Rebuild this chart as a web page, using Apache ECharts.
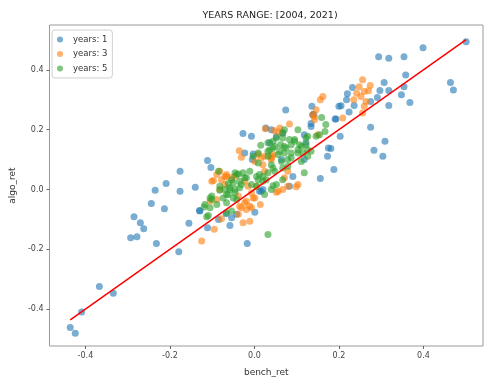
<!DOCTYPE html>
<html>
<head>
<meta charset="utf-8">
<script src="https://cdn.jsdelivr.net/npm/echarts@6/dist/echarts.min.js"></script>
<style>
  html, body { margin: 0; padding: 0; background: #fff; }
  #chart { width: 485px; height: 382px; }
</style>
</head>
<body>
<div id="chart"></div>
<script>
// title / labels
const titleText = 'YEARS RANGE: [2004, 2021)';
const xName = 'bench_ret';
const yName = 'algo_ret';
const seriesNames = ['years: 1', 'years: 3', 'years: 5'];
const xTicks = [-0.4, -0.2, 0.0, 0.2, 0.4];
const yTicks = [-0.4, -0.2, 0.0, 0.2, 0.4];

// [bench_ret, algo_ret]
const years1 = [
  [0.501, 0.494], [0.399, 0.474], [0.294, 0.444], [0.318, 0.439], [0.354, 0.444], [0.358, 0.383],
  [0.354, 0.344], [0.348, 0.317], [0.368, 0.291], [0.318, 0.281], [0.318, 0.331], [0.307, 0.358],
  [0.297, 0.331], [0.291, 0.308], [0.464, 0.358], [0.471, 0.333], [0.275, 0.294], [0.232, 0.341],
  [0.220, 0.320], [0.218, 0.300], [0.205, 0.280], [0.236, 0.281], [0.224, 0.259], [0.191, 0.236],
  [0.275, 0.208], [0.203, 0.178], [0.309, 0.161], [0.283, 0.131], [0.304, 0.111], [0.188, 0.067],
  [0.181, 0.137], [0.074, 0.266], [0.136, 0.278], [0.140, 0.252], [0.200, 0.278], [0.193, 0.236],
  [0.134, 0.221], [-0.027, 0.187], [-0.007, 0.178], [0.036, 0.156], [0.067, 0.189], [0.118, 0.183],
  [-0.023, 0.122], [-0.003, 0.119], [-0.005, 0.100], [-0.111, 0.097], [-0.103, 0.074], [0.173, 0.111],
  [0.175, 0.139], [0.156, 0.037], [0.091, 0.044], [0.083, 0.011], [-0.140, 0.008], [0.122, 0.156],
  [0.027, 0.206], [-0.176, 0.061], [-0.209, 0.020], [-0.235, -0.002], [-0.176, -0.006], [-0.244, -0.047],
  [-0.213, -0.064], [-0.285, -0.091], [-0.270, -0.111], [-0.262, -0.131], [-0.293, -0.161], [-0.278, -0.158],
  [-0.232, -0.180], [-0.155, -0.113], [-0.130, -0.070], [-0.111, -0.128], [-0.085, -0.100], [-0.067, -0.081],
  [-0.058, -0.120], [-0.054, -0.094], [-0.017, -0.180], [0.020, 0.000], [0.012, -0.006], [0.001, -0.076],
  [-0.129, -0.072], [-0.179, -0.208], [-0.367, -0.324], [-0.334, -0.347], [-0.409, -0.409], [-0.436, -0.461],
  [-0.424, -0.480], [0.138, 0.250], [0.016, -0.006], [0.134, 0.211], [0.040, 0.200], [0.052, 0.178],
  [0.064, 0.100], [0.118, 0.100], [-0.042, -0.083]
];
const years3 = [
  [0.256, 0.367], [0.248, 0.344], [0.274, 0.348], [0.242, 0.322], [0.260, 0.328], [0.252, 0.311],
  [0.264, 0.294], [0.260, 0.278], [0.256, 0.256], [0.209, 0.239], [0.162, 0.311], [0.156, 0.300],
  [0.083, 0.219], [0.026, 0.203], [0.046, 0.197], [0.057, 0.192], [0.142, 0.233], [0.150, 0.183],
  [-0.036, 0.130], [-0.031, 0.108], [0.016, 0.106], [0.020, 0.083], [0.040, 0.111], [-0.082, 0.061],
  [-0.070, 0.044], [-0.097, 0.030], [-0.046, 0.044], [0.001, 0.094], [0.079, 0.061], [0.071, 0.039],
  [0.103, 0.017], [0.024, 0.061], [-0.070, 0.017], [-0.101, 0.028], [-0.082, 0.000], [-0.125, -0.172],
  [-0.095, -0.133], [-0.078, -0.098], [-0.038, -0.083], [-0.027, -0.111], [-0.011, -0.106], [-0.019, -0.067],
  [-0.007, -0.061], [0.014, -0.050], [-0.023, -0.044], [-0.035, -0.056], [-0.038, -0.022], [-0.003, -0.028],
  [0.052, -0.009], [0.067, 0.000], [0.099, 0.009], [-0.023, 0.028], [0.005, 0.011], [-0.089, 0.050],
  [-0.066, 0.050], [0.146, 0.267], [0.138, 0.250], [0.270, 0.330], [0.235, 0.300], [-0.015, 0.011],
  [0.079, 0.011], [0.056, -0.006], [-0.054, 0.040], [0.009, 0.117], [0.024, 0.111], [0.040, 0.106],
  [-0.078, 0.033], [-0.066, 0.044], [-0.007, -0.011], [0.001, -0.028], [-0.019, -0.039], [-0.105, -0.039],
  [-0.089, -0.033], [-0.031, -0.061], [-0.011, -0.056], [0.142, 0.244], [0.060, 0.206], [0.044, 0.117],
  [0.040, 0.100]
];
const years5 = [
  [0.159, 0.241], [0.169, 0.217], [0.167, 0.194], [0.071, 0.200], [0.103, 0.200], [0.122, 0.172],
  [0.095, 0.167], [0.052, 0.172], [0.062, 0.150], [0.087, 0.150], [0.111, 0.144], [0.015, 0.148],
  [0.032, 0.128], [0.056, 0.117], [0.071, 0.122], [0.087, 0.106], [0.103, 0.122], [0.126, 0.111],
  [0.009, 0.122], [0.064, 0.094], [0.040, 0.083], [0.048, 0.061], [0.032, 0.056], [0.012, 0.050],
  [-0.011, 0.061], [-0.023, 0.039], [-0.038, 0.052], [-0.054, 0.033], [-0.031, 0.017], [0.111, 0.094],
  [0.118, 0.056], [0.067, 0.033], [0.052, 0.017], [0.020, 0.028], [0.005, 0.011], [0.134, 0.128],
  [0.079, 0.078], [-0.117, -0.050], [-0.105, -0.061], [-0.109, -0.087], [-0.101, -0.033], [-0.062, -0.017],
  [-0.050, -0.028], [-0.070, 0.000], [-0.046, 0.000], [-0.050, 0.022], [-0.035, 0.006], [-0.054, -0.072],
  [0.044, 0.013], [-0.119, -0.058], [-0.082, -0.002], [-0.062, 0.020], [-0.046, 0.056], [0.032, -0.150],
  [0.067, 0.189], [0.095, 0.161], [0.071, 0.144], [0.048, 0.144], [0.032, 0.111], [0.079, 0.100],
  [0.126, 0.133], [0.009, 0.089], [-0.058, 0.000], [-0.082, 0.011], [-0.101, -0.022], [-0.089, -0.050],
  [-0.074, -0.028], [-0.066, -0.044], [-0.042, -0.033], [0.028, 0.033], [0.067, 0.072], [0.040, 0.000],
  [0.024, -0.017], [0.005, 0.044], [0.032, 0.156], [0.036, 0.133], [-0.003, 0.111], [0.044, 0.072],
  [-0.085, 0.061], [-0.042, 0.050], [-0.027, 0.056], [-0.035, 0.028], [-0.019, 0.039], [-0.058, 0.006],
  [-0.046, -0.011], [-0.066, -0.017], [-0.007, 0.017], [0.009, 0.033], [0.020, 0.044], [-0.105, -0.028],
  [-0.066, -0.078], [-0.113, -0.091], [0.126, 0.178], [0.146, 0.178], [0.154, 0.183], [0.044, 0.161],
  [0.067, 0.172], [0.083, 0.167], [0.107, 0.150], [0.122, 0.150], [0.044, 0.139], [0.060, 0.128],
  [0.075, 0.139], [0.087, 0.122], [0.103, 0.133], [0.115, 0.122]
];

// red reference line y = x across the data range
const allX = years1.concat(years3, years5).map(p => p[0]);
const lineMin = Math.min(...allX);
const lineMax = Math.max(...allX);
const refLine = [[lineMin, lineMin], [lineMax, lineMax]];

const colors = ['#1f77b4', '#ff7f0e', '#2ca02c'];
const font = 'DejaVu Sans';

let myChart = echarts.init(document.getElementById('chart'));

function scatter(name, data, color) {
  return {
    name: name,
    type: 'scatter',
    data: data,
    symbolSize: 7,
    itemStyle: { color: color, opacity: 0.6 },
    emphasis: { disabled: true },
    z: 2
  };
}

myChart.setOption({
  animation: false,
  title: {
    text: titleText,
    left: 265,
    textAlign: 'center',
    top: 6,
    textStyle: { fontFamily: font, fontSize: 9.5, fontWeight: 'normal', color: '#222' }
  },
  legend: {
    orient: 'vertical',
    left: 52,
    top: 30,
    padding: [4, 5, 4, 5],
    itemGap: 3.5,
    itemWidth: 8,
    itemHeight: 6,
    icon: 'circle',
    borderColor: '#d0d0d0',
    borderWidth: 1,
    borderRadius: 3,
    backgroundColor: 'rgba(255,255,255,0.85)',
    data: seriesNames,
    textStyle: { fontFamily: font, fontSize: 8.5, color: '#333', lineHeight: 11, padding: [0, 0, 0, 4] }
  },
  grid: {
    show: true,
    left: 47,
    right: 2,
    top: 25,
    bottom: 35,
    borderColor: '#9a9a9a',
    borderWidth: 1,
    backgroundColor: '#fff'
  },
  xAxis: {
    type: 'value',
    min: -0.485,
    max: 0.541,
    name: xName,
    nameLocation: 'middle',
    nameGap: 22,
    nameTextStyle: { fontFamily: font, fontSize: 9, color: '#333' },
    axisLine: { show: false, onZero: false },
    splitLine: { show: false },
    axisTick: { show: true, length: 3, customValues: xTicks, lineStyle: { color: '#666' } },
    axisLabel: {
      customValues: xTicks,
      margin: 6,
      fontFamily: font,
      fontSize: 8,
      color: '#444',
      formatter: v => v.toFixed(1)
    }
  },
  yAxis: {
    type: 'value',
    min: -0.523,
    max: 0.55,
    name: yName,
    nameLocation: 'middle',
    nameGap: 32,
    nameTextStyle: { fontFamily: font, fontSize: 9, color: '#333' },
    axisLine: { show: false, onZero: false },
    splitLine: { show: false },
    axisTick: { show: true, length: 3, customValues: yTicks, lineStyle: { color: '#666' } },
    axisLabel: {
      customValues: yTicks,
      margin: 6,
      fontFamily: font,
      fontSize: 8,
      color: '#444',
      formatter: v => v.toFixed(1)
    }
  },
  series: [
    scatter(seriesNames[0], years1, colors[0]),
    scatter(seriesNames[1], years3, colors[1]),
    scatter(seriesNames[2], years5, colors[2]),
    {
      type: 'line',
      data: refLine,
      symbol: 'none',
      lineStyle: { color: '#ff0000', width: 1.5 },
      z: 3,
      silent: true
    }
  ]
});
</script>
</body>
</html>
